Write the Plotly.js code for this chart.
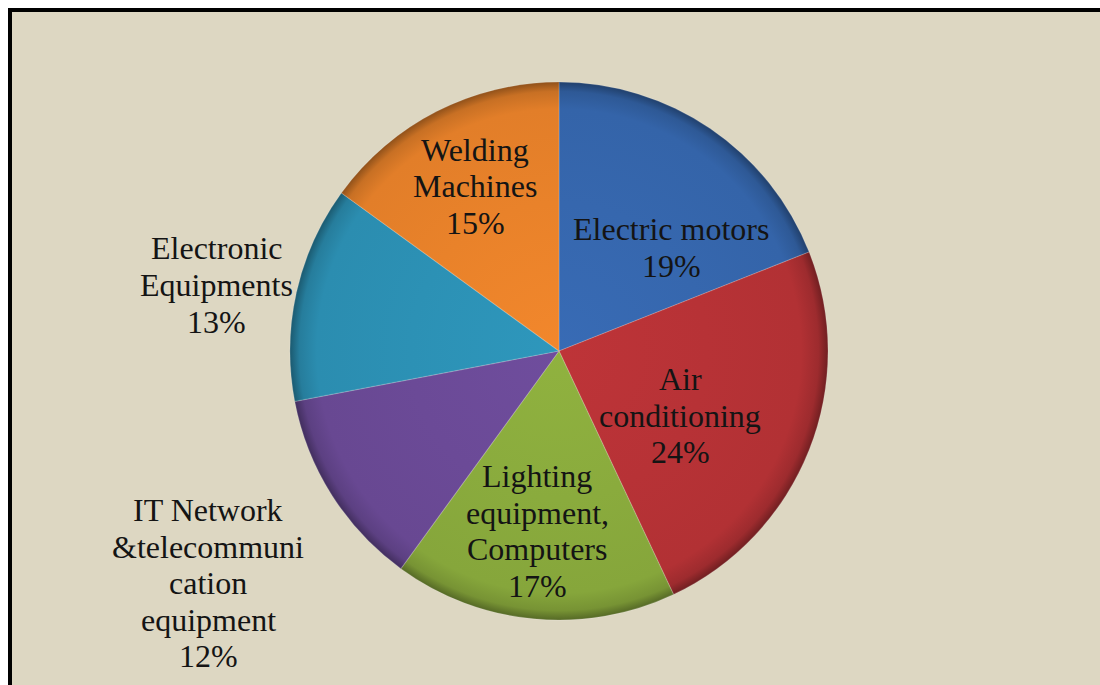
<!DOCTYPE html>
<html>
<head>
<meta charset="utf-8">
<script src="https://cdn.plot.ly/plotly-3.0.1.min.js"></script>
<style>
  html, body { margin: 0; padding: 0; background: #ffffff; }
  #chart { width: 1100px; height: 685px; }
</style>
</head>
<body>
<div id="chart"></div>
<script>
// Share of energy use by equipment type
const categories = [
  'Electric motors',
  'Air conditioning',
  'Lighting equipment, Computers',
  'IT Network &telecommunication equipment',
  'Electronic Equipments',
  'Welding Machines'
];
const shares = [19, 24, 17, 12, 13, 15];

// Label text as it is wrapped on the chart
const labelLines = [
  ['Electric motors'],
  ['Air', 'conditioning'],
  ['Lighting', 'equipment,', 'Computers'],
  ['IT Network', '&telecommuni', 'cation', 'equipment'],
  ['Electronic', 'Equipments'],
  ['Welding', 'Machines']
];

// Styling
const sliceColors = ['#3667ae', '#b73236', '#8aab3d', '#6b4a97', '#2c91b5', '#e9822a'];
const bgColor = '#ddd7c2';
const textFont = { family: 'Times New Roman, Liberation Serif, DejaVu Serif, serif', size: 32, color: '#141414' };

// Figure geometry (pixels)
const W = 1100, H = 685;
const margin = { l: 290, r: 272, t: 82, b: 65, pad: 0 };
const plotW = W - margin.l - margin.r;
const plotH = H - margin.t - margin.b;
const px2x = px => (px - margin.l) / plotW;
const py2y = py => 1 - (py - margin.t) / plotH;

// Centre of the first text line of each label, and line step
const labelAnchors = [
  [671, 229], [680, 379], [537, 476], [208, 510], [216, 248.5], [475, 150]
];
const lineStep = 36.5;

const annotations = [];
labelLines.forEach((lines, i) => {
  const all = lines.concat([shares[i] + '%']);
  all.forEach((txt, k) => {
    annotations.push({
      xref: 'paper', yref: 'paper',
      x: px2x(labelAnchors[i][0]),
      y: py2y(labelAnchors[i][1] + k * lineStep),
      xanchor: 'center', yanchor: 'middle',
      text: txt, showarrow: false,
      font: Object.assign({}, textFont)
    });
  });
});

const trace = {
  type: 'pie',
  labels: categories,
  values: shares,
  sort: false,
  direction: 'clockwise',
  rotation: 0,
  textinfo: 'none',
  hoverinfo: 'none',
  marker: { colors: sliceColors, line: { color: 'rgba(255,255,255,0.16)', width: 1.2 } },
  domain: { x: [0, 1], y: [0, 1] },
  showlegend: false
};

const layout = {
  width: W, height: H,
  margin: margin,
  paper_bgcolor: '#ffffff',
  plot_bgcolor: bgColor,
  font: { family: textFont.family },
  showlegend: false,
  annotations: annotations,
  shapes: [{
    type: 'rect', layer: 'below',
    xref: 'paper', yref: 'paper',
    x0: px2x(10), y0: py2y(10), x1: px2x(W + 20), y1: py2y(H + 20),
    line: { color: '#000000', width: 4 },
    fillcolor: bgColor
  }]
};

function shade(hex, f) {
  const n = parseInt(hex.slice(1), 16);
  const r = Math.min(255, Math.round(((n >> 16) & 255) * f));
  const g = Math.min(255, Math.round(((n >> 8) & 255) * f));
  const b = Math.min(255, Math.round((n & 255) * f));
  return 'rgb(' + r + ',' + g + ',' + b + ')';
}

Plotly.newPlot('chart', [trace], layout, { displayModeBar: false, staticPlot: true }).then(gd => {
  // Bevelled rim: darken every slice toward the outer edge
  const cd0 = gd.calcdata && gd.calcdata[0] && gd.calcdata[0][0];
  const cx = cd0 && cd0.cx !== undefined ? cd0.cx : margin.l + plotW / 2;
  const cy = cd0 && cd0.cy !== undefined ? cd0.cy : margin.t + plotH / 2;
  const r = cd0 && cd0.r ? cd0.r : Math.min(plotW, plotH) / 2;
  const svg = gd.querySelector('svg.main-svg');
  const NS = 'http://www.w3.org/2000/svg';
  let defs = svg.querySelector('defs');
  if (!defs) { defs = document.createElementNS(NS, 'defs'); svg.insertBefore(defs, svg.firstChild); }
  const paths = gd.querySelectorAll('.pielayer .slice path.surface');
  paths.forEach((p, i) => {
    const base = sliceColors[i % sliceColors.length];
    const id = 'rim-' + i;
    const grad = document.createElementNS(NS, 'radialGradient');
    grad.setAttribute('id', id);
    grad.setAttribute('gradientUnits', 'userSpaceOnUse');
    grad.setAttribute('cx', cx); grad.setAttribute('cy', cy); grad.setAttribute('r', r);
    [[0, 1.04], [0.55, 1.0], [0.9, 0.97], [0.965, 0.86], [1, 0.62]].forEach(([o, f]) => {
      const s = document.createElementNS(NS, 'stop');
      s.setAttribute('offset', o);
      s.setAttribute('stop-color', shade(base, f));
      grad.appendChild(s);
    });
    defs.appendChild(grad);
    p.style.fill = 'url(#' + id + ')';
  });
});
</script>
</body>
</html>
